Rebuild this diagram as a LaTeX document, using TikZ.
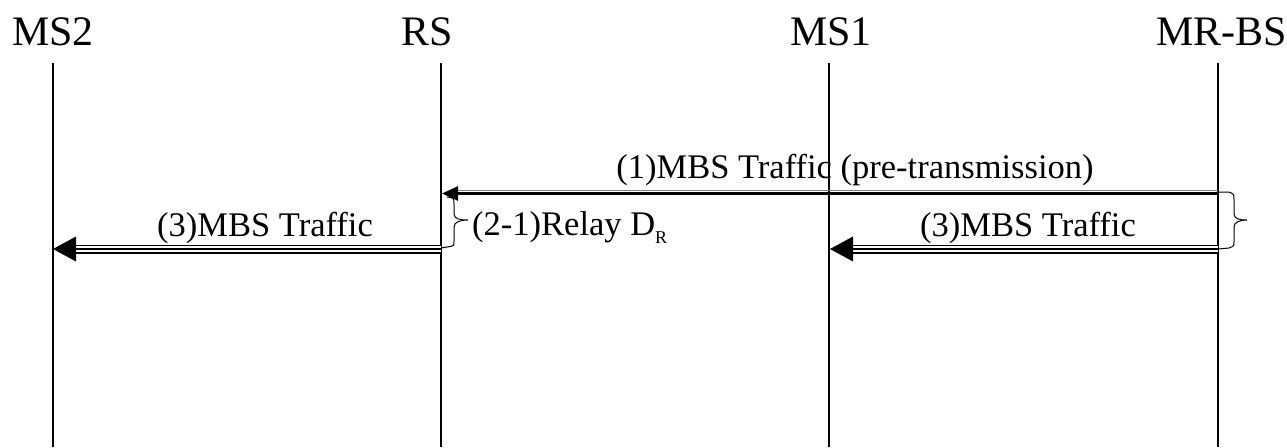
\documentclass[tikz,border=0pt]{standalone}
\usepackage{fontspec}
\setmainfont{Liberation Serif}
\usetikzlibrary{arrows.meta,calc}
\begin{document}
\begin{tikzpicture}[x=1pt,y=-1pt,
  head/.style={font=\fontsize{42}{42}\selectfont, inner sep=0pt, anchor=base},
  msg/.style={font=\fontsize{34.5}{34.5}\selectfont, inner sep=0pt, anchor=base},
  life/.style={line width=1.8pt},
  brc/.style={line width=1pt}
]
\useasboundingbox (0,0) rectangle (1287,447);
% lifeline heads
\node[head] (ms2) at (53,45) {MS2};
\node[head] (rs) at (427,45) {RS};
\node[head] (ms1) at (831,45) {MS1};
\node[head, anchor=base east] (bs) at (1287,45) {MR-BS};
% lifelines
\coordinate (l1t) at (53,63);  \coordinate (l1b) at (53,447);
\coordinate (l2t) at (441,63); \coordinate (l2b) at (441,447);
\coordinate (l3t) at (829,63); \coordinate (l3b) at (829,447);
\coordinate (l4t) at (1218,63);\coordinate (l4b) at (1218,447);
\draw[life] (l1t) -- (l1b);
\draw[life] (l2t) -- (l2b);
\draw[life] (l3t) -- (l3b);
\draw[life] (l4t) -- (l4b);
% (1) arrow
\coordinate (a1s) at (1218,193.5);
\coordinate (a1e) at (442,193.5);
\draw[gray, line width=0.8pt] (1218,190) -- (455,190);
\draw[line width=2.8pt, -{Triangle[length=16pt,width=14pt]}] (a1s) -- (a1e);
\node[msg] (t1) at (855,178) {(1)MBS Traffic (pre-transmission)};
% (3) arrows, triple line
\coordinate (a2s) at (441,249);
\coordinate (a2e) at (53,249);
\coordinate (a3s) at (1218,249);
\coordinate (a3e) at (830,249);
\foreach \s/\e in {a2s/a2e,a3s/a3e}{
  \draw[line width=9pt] (\s) -- ($(\e)+(20,0)$);
  \draw[white,line width=6pt] (\s) -- ($(\e)+(20,0)$);
  \draw[line width=2.6pt] (\s) -- ($(\e)+(20,0)$);
  \fill (\e) -- ++(23,-12.5) -- ++(0,25) -- cycle;
}
\node[msg] (t2) at (265,236) {(3)MBS Traffic};
\node[msg] (t3) at (1028,236) {(3)MBS Traffic};
% braces
\draw[brc] (1218,192) -- (1229,192) .. controls (1234,194) .. (1234,200) -- (1234,214)
  .. controls (1234,219) and (1240,220) .. (1247,220)
  .. controls (1240,220) and (1234,222) .. (1234,227) -- (1234,242)
  .. controls (1234,246) .. (1229,248) -- (1218,249);
\draw[brc] (447,197) .. controls (454,198) .. (454,204) -- (454,214)
  .. controls (454,219) and (460,220) .. (468,220)
  .. controls (460,220) and (454,222) .. (454,227) -- (454,241)
  .. controls (454,246) .. (447,247) -- (441,248);
\node[msg, anchor=base west] (t4) at (472,235) {(2-1)Relay D\raisebox{-0.25em}{\fontsize{18}{18}\selectfont R}};
\end{tikzpicture}
\end{document}
